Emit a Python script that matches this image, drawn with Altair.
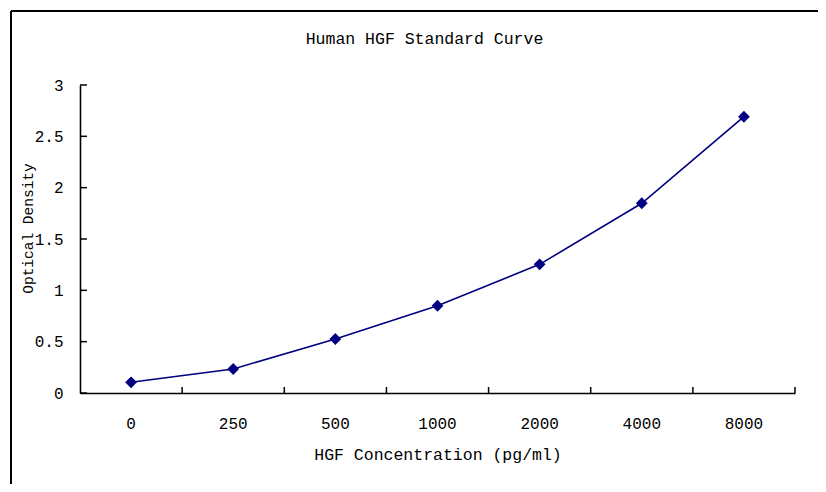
import altair as alt
import pandas as pd

# ---- data ----
concentrations = ["0", "250", "500", "1000", "2000", "4000", "8000"]
optical_density = [0.104, 0.234, 0.526, 0.850, 1.253, 1.848, 2.691]
y_ticks = [0, 0.5, 1, 1.5, 2, 2.5, 3]

title_text = "Human HGF Standard Curve"
x_title = "HGF Concentration (pg/ml)"
y_title = "Optical Density"

FONT = "Liberation Mono"
NAVY = "#000080"

df = pd.DataFrame({"conc": concentrations, "od": optical_density})
ticks_df = pd.DataFrame({"od": y_ticks})
one = pd.DataFrame({"a": [0]})

W, H = 715, 308

x_scale = alt.Scale(domain=concentrations, paddingInner=0, paddingOuter=0)
y_scale = alt.Scale(domain=[0, 3], nice=False)

x_axis = alt.Axis(
    title=x_title,
    labelAngle=0,
    ticks=False,
    tickSize=0,
    labelPadding=35,
    labelBaseline="alphabetic",
    labelFont=FONT,
    labelFontSize=16,
    labelColor="#000",
    domainColor="#000",
    domainWidth=1.6,
    grid=False,
    titleFont=FONT,
    titleFontSize=16.5,
    titleFontWeight="normal",
    titleColor="#000",
    titleBaseline="alphabetic",
    titleY=66,
)

y_axis = alt.Axis(
    title=y_title,
    values=y_ticks,
    labelExpr="'' + datum.value",
    ticks=False,
    tickSize=0,
    labelPadding=17,
    labelFont=FONT,
    labelFontSize=16,
    labelColor="#000",
    domainColor="#000",
    domainWidth=1.6,
    grid=False,
    titleFont=FONT,
    titleFontSize=14.5,
    titleFontWeight="normal",
    titleColor="#000",
    titleAngle=270,
    titleAlign="center",
    titleBaseline="alphabetic",
    titleX=-48,
    titleY=143,
)

x_enc = alt.X("conc:N", sort=concentrations, scale=x_scale, axis=x_axis)
y_enc = alt.Y("od:Q", scale=y_scale, axis=y_axis)

line = alt.Chart(df).mark_line(color=NAVY, strokeWidth=1.6).encode(x=x_enc, y=y_enc)
points = alt.Chart(df).mark_point(
    shape="diamond", filled=True, color=NAVY, size=140, opacity=1
).encode(x=x_enc, y=y_enc)

# inward tick marks (Excel style)
y_tick_marks = alt.Chart(ticks_df).mark_rule(color="#000", strokeWidth=1.5).encode(
    y=y_enc, x=alt.value(0), x2=alt.value(7)
)
x_tick_marks = alt.Chart(df).mark_rule(color="#000", strokeWidth=1.5).encode(
    x=alt.X("conc:N", sort=concentrations, scale=x_scale, axis=x_axis, bandPosition=1),
    y=alt.value(H - 6),
    y2=alt.value(H),
)

# outer chart frame (Excel chart area border)
frame_top = alt.Chart(one).mark_rule(color="#000", strokeWidth=2).encode(
    x=alt.value(-69), x2=alt.value(760), y=alt.value(-74)
)
frame_left = alt.Chart(one).mark_rule(color="#000", strokeWidth=2).encode(
    x=alt.value(-69), y=alt.value(-74), y2=alt.value(420)
)

chart = (
    alt.layer(line, x_tick_marks, y_tick_marks, points, frame_top, frame_left)
    .properties(
        width=W,
        height=H,
        background="white",
        title=alt.TitleParams(
            text=title_text,
            font=FONT,
            fontSize=16.5,
            fontWeight="normal",
            color="#000",
            anchor="middle",
            frame="group",
            baseline="alphabetic",
            offset=-50,
            dx=-13,
        ),
        autosize=alt.AutoSizeParams(type="none"),
        padding={"left": 72, "top": 77, "right": 23, "bottom": 91},
    )
    .configure_view(stroke="transparent", strokeWidth=0)
)

chart.save("out.html", embed_options={"renderer": "svg", "actions": False})
